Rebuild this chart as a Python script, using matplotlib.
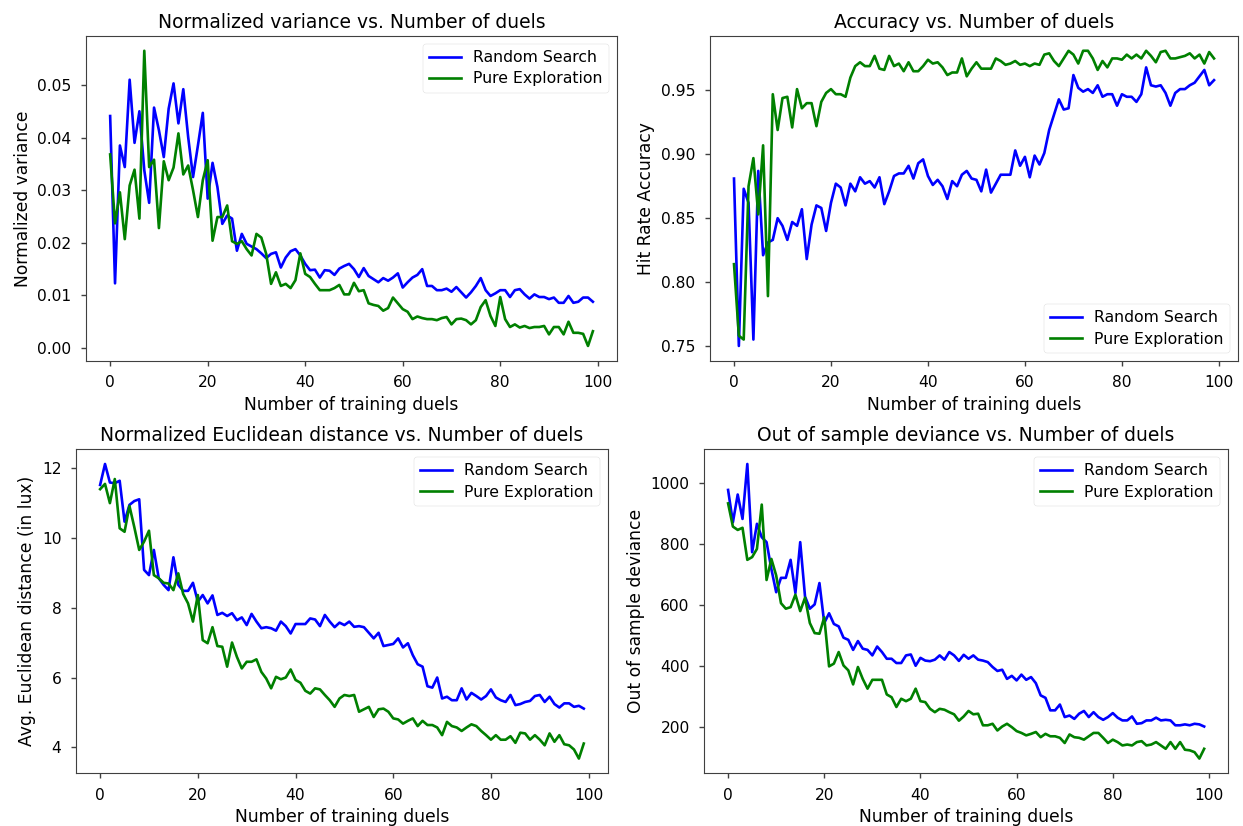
import numpy as np
import matplotlib
matplotlib.use("Agg")
import matplotlib.pyplot as plt

plt.style.use('seaborn-v0_8-notebook')

duels = np.arange(100)

# normalized variance
var_random = [0.0441, 0.0123, 0.0385, 0.0344, 0.0510, 0.0390, 0.0450, 0.0338, 0.0276, 0.0457,
              0.0414, 0.0363, 0.0455, 0.0503, 0.0427, 0.0492, 0.0401, 0.0325, 0.0385, 0.0447,
              0.0284, 0.0352, 0.0306, 0.0236, 0.0252, 0.0246, 0.0185, 0.0217, 0.0198, 0.0193,
              0.0188, 0.0180, 0.0171, 0.0179, 0.0182, 0.0153, 0.0172, 0.0184, 0.0188, 0.0176,
              0.0160, 0.0148, 0.0149, 0.0134, 0.0148, 0.0147, 0.0139, 0.0151, 0.0156, 0.0160,
              0.0150, 0.0135, 0.0152, 0.0137, 0.0131, 0.0125, 0.0133, 0.0128, 0.0134, 0.0142,
              0.0115, 0.0125, 0.0134, 0.0139, 0.0150, 0.0118, 0.0118, 0.0110, 0.0110, 0.0113,
              0.0107, 0.0116, 0.0106, 0.0096, 0.0106, 0.0118, 0.0133, 0.0110, 0.0099, 0.0104,
              0.0110, 0.0110, 0.0097, 0.0110, 0.0112, 0.0102, 0.0094, 0.0102, 0.0097, 0.0097,
              0.0093, 0.0096, 0.0086, 0.0086, 0.0099, 0.0086, 0.0088, 0.0096, 0.0096, 0.0088]
var_pure = [0.0368, 0.0237, 0.0296, 0.0207, 0.0309, 0.0339, 0.0246, 0.0565, 0.0344, 0.0358,
            0.0228, 0.0355, 0.0319, 0.0343, 0.0408, 0.0330, 0.0347, 0.0300, 0.0249, 0.0319,
            0.0357, 0.0204, 0.0249, 0.0249, 0.0271, 0.0203, 0.0198, 0.0203, 0.0188, 0.0176,
            0.0217, 0.0210, 0.0179, 0.0122, 0.0144, 0.0118, 0.0122, 0.0114, 0.0129, 0.0180,
            0.0141, 0.0135, 0.0122, 0.0110, 0.0110, 0.0110, 0.0114, 0.0120, 0.0102, 0.0102,
            0.0124, 0.0108, 0.0110, 0.0085, 0.0082, 0.0080, 0.0071, 0.0076, 0.0096, 0.0085,
            0.0074, 0.0069, 0.0055, 0.0060, 0.0057, 0.0055, 0.0055, 0.0053, 0.0057, 0.0059,
            0.0045, 0.0055, 0.0056, 0.0053, 0.0045, 0.0053, 0.0078, 0.0091, 0.0061, 0.0042,
            0.0097, 0.0055, 0.0040, 0.0045, 0.0039, 0.0042, 0.0038, 0.0040, 0.0040, 0.0042,
            0.0026, 0.0040, 0.0040, 0.0026, 0.0050, 0.0029, 0.0029, 0.0027, 0.0004, 0.0032]

# hit rate accuracy
acc_random = [0.881, 0.750, 0.873, 0.862, 0.755, 0.887, 0.821, 0.831, 0.833, 0.850,
              0.844, 0.833, 0.847, 0.844, 0.857, 0.818, 0.845, 0.860, 0.858, 0.840,
              0.862, 0.877, 0.874, 0.860, 0.877, 0.871, 0.882, 0.877, 0.879, 0.874,
              0.882, 0.861, 0.871, 0.883, 0.885, 0.885, 0.891, 0.881, 0.893, 0.896,
              0.883, 0.876, 0.880, 0.875, 0.865, 0.879, 0.875, 0.884, 0.887, 0.881,
              0.880, 0.871, 0.888, 0.870, 0.877, 0.884, 0.884, 0.884, 0.903, 0.891,
              0.898, 0.882, 0.899, 0.892, 0.901, 0.919, 0.931, 0.943, 0.935, 0.936,
              0.962, 0.952, 0.949, 0.951, 0.948, 0.954, 0.945, 0.947, 0.947, 0.938,
              0.947, 0.945, 0.945, 0.941, 0.947, 0.968, 0.954, 0.953, 0.954, 0.948,
              0.938, 0.948, 0.951, 0.951, 0.954, 0.956, 0.961, 0.966, 0.954, 0.958]
acc_pure = [0.814, 0.758, 0.755, 0.875, 0.897, 0.853, 0.907, 0.789, 0.947, 0.919,
            0.944, 0.945, 0.921, 0.951, 0.936, 0.940, 0.940, 0.922, 0.941, 0.948,
            0.951, 0.947, 0.947, 0.945, 0.960, 0.969, 0.972, 0.969, 0.969, 0.977,
            0.967, 0.966, 0.977, 0.969, 0.971, 0.965, 0.972, 0.965, 0.965, 0.969,
            0.974, 0.971, 0.972, 0.968, 0.962, 0.964, 0.964, 0.975, 0.961, 0.967,
            0.972, 0.967, 0.967, 0.967, 0.975, 0.973, 0.970, 0.971, 0.973, 0.970,
            0.971, 0.969, 0.971, 0.970, 0.978, 0.979, 0.973, 0.969, 0.975, 0.981,
            0.978, 0.971, 0.981, 0.981, 0.975, 0.966, 0.973, 0.968, 0.975, 0.975,
            0.974, 0.978, 0.975, 0.978, 0.975, 0.981, 0.977, 0.972, 0.980, 0.981,
            0.975, 0.975, 0.976, 0.977, 0.979, 0.975, 0.978, 0.971, 0.980, 0.975]

# avg. euclidean distance
dist_random = [11.51, 12.11, 11.58, 11.56, 11.63, 10.46, 10.94, 11.05, 11.10, 9.08,
               8.93, 9.65, 8.84, 8.65, 8.50, 9.44, 8.65, 8.48, 8.48, 8.71,
               8.17, 8.36, 8.12, 8.35, 7.79, 7.85, 7.76, 7.84, 7.64, 7.72,
               7.50, 7.82, 7.60, 7.41, 7.44, 7.41, 7.34, 7.60, 7.47, 7.26,
               7.53, 7.53, 7.53, 7.69, 7.66, 7.47, 7.79, 7.60, 7.44, 7.57,
               7.50, 7.60, 7.45, 7.47, 7.44, 7.28, 7.12, 7.28, 6.90, 6.93,
               6.96, 7.12, 6.86, 6.98, 6.64, 6.38, 6.31, 5.75, 5.71, 6.00,
               5.40, 5.45, 5.35, 5.35, 5.69, 5.37, 5.56, 5.47, 5.37, 5.47,
               5.66, 5.43, 5.35, 5.30, 5.50, 5.21, 5.24, 5.30, 5.33, 5.47,
               5.50, 5.30, 5.45, 5.24, 5.14, 5.26, 5.26, 5.16, 5.19, 5.11]
dist_pure = [11.39, 11.54, 10.99, 11.68, 10.27, 10.17, 10.91, 10.30, 9.65, 9.89,
             10.20, 8.93, 8.84, 8.71, 8.69, 8.50, 8.98, 8.39, 8.12, 7.60,
             8.36, 7.07, 6.98, 7.44, 6.90, 6.88, 6.31, 7.00, 6.59, 6.26,
             6.45, 6.45, 6.52, 6.16, 5.97, 5.69, 6.02, 5.95, 6.00, 6.23,
             5.93, 5.85, 5.62, 5.54, 5.69, 5.66, 5.50, 5.35, 5.16, 5.40,
             5.50, 5.47, 5.50, 5.02, 5.09, 5.16, 4.87, 5.09, 5.11, 5.02,
             4.83, 4.80, 4.68, 4.76, 4.83, 4.61, 4.76, 4.64, 4.64, 4.57,
             4.35, 4.73, 4.61, 4.57, 4.47, 4.57, 4.66, 4.61, 4.47, 4.35,
             4.22, 4.35, 4.22, 4.22, 4.32, 4.13, 4.42, 4.40, 4.22, 4.35,
             4.22, 4.06, 4.40, 4.16, 4.35, 4.09, 4.06, 3.94, 3.68, 4.11]

# out of sample deviance
dev_random = [977, 871, 962, 882, 1062, 773, 866, 822, 806, 718,
              642, 689, 689, 748, 639, 806, 628, 588, 602, 672,
              541, 573, 538, 530, 493, 486, 453, 482, 457, 453,
              435, 464, 446, 424, 424, 410, 410, 435, 438, 401,
              427, 418, 416, 421, 435, 421, 446, 435, 417, 437,
              424, 435, 421, 418, 413, 397, 384, 388, 358, 368,
              353, 372, 355, 364, 344, 304, 296, 255, 255, 274,
              233, 238, 227, 244, 253, 233, 249, 233, 224, 233,
              246, 231, 222, 222, 235, 211, 213, 222, 222, 231,
              222, 224, 222, 206, 206, 209, 206, 211, 209, 202]
dev_pure = [933, 857, 846, 853, 748, 757, 784, 929, 682, 751,
            697, 606, 588, 593, 634, 580, 624, 541, 508, 506,
            560, 399, 408, 446, 402, 386, 340, 397, 358, 326,
            355, 355, 355, 307, 298, 266, 293, 285, 293, 326,
            285, 282, 260, 249, 260, 257, 249, 242, 221, 235,
            253, 242, 244, 206, 206, 211, 189, 202, 211, 200,
            187, 181, 173, 178, 184, 167, 178, 170, 170, 165,
            148, 176, 167, 165, 159, 170, 181, 181, 165, 148,
            159, 151, 140, 143, 140, 151, 154, 140, 143, 151,
            140, 129, 151, 129, 151, 126, 124, 118, 97, 129]

panels = [
    ([0.0692, 0.5633, 0.4272, 0.3931], var_random, var_pure,
     'Normalized variance vs. Number of duels', 'Normalized variance', 'upper right'),
    ([0.5712, 0.5633, 0.4248, 0.3931], acc_random, acc_pure,
     'Accuracy vs. Number of duels', 'Hit Rate Accuracy', 'lower right'),
    ([0.0611, 0.0638, 0.4280, 0.3923], dist_random, dist_pure,
     'Normalized Euclidean distance vs. Number of duels', 'Avg. Euclidean distance (in lux)', 'upper right'),
    ([0.5666, 0.0638, 0.4213, 0.3923], dev_random, dev_pure,
     'Out of sample deviance vs. Number of duels', 'Out of sample deviance', 'upper right'),
]

fig = plt.figure(figsize=(12.43, 8.26), dpi=100)
for rect, y_rand, y_pure, title, ylabel, loc in panels:
    ax = fig.add_axes(rect)
    ax.plot(duels, y_rand, color='b', lw=1.9, label='Random Search')
    ax.plot(duels, y_pure, color='g', lw=1.9, label='Pure Exploration')
    ax.set_title(title, fontsize=13.5)
    ax.set_xlabel('Number of training duels', fontsize=12.3)
    ax.set_ylabel(ylabel, fontsize=12.3)
    ax.tick_params(labelsize=11.2, color='0.25', length=3.5, pad=7)
    for sp in ax.spines.values():
        sp.set_color('0.25')
    ax.legend(loc=loc, fontsize=11.3, labelspacing=0.4)

fig.savefig('out.png', dpi=100)
